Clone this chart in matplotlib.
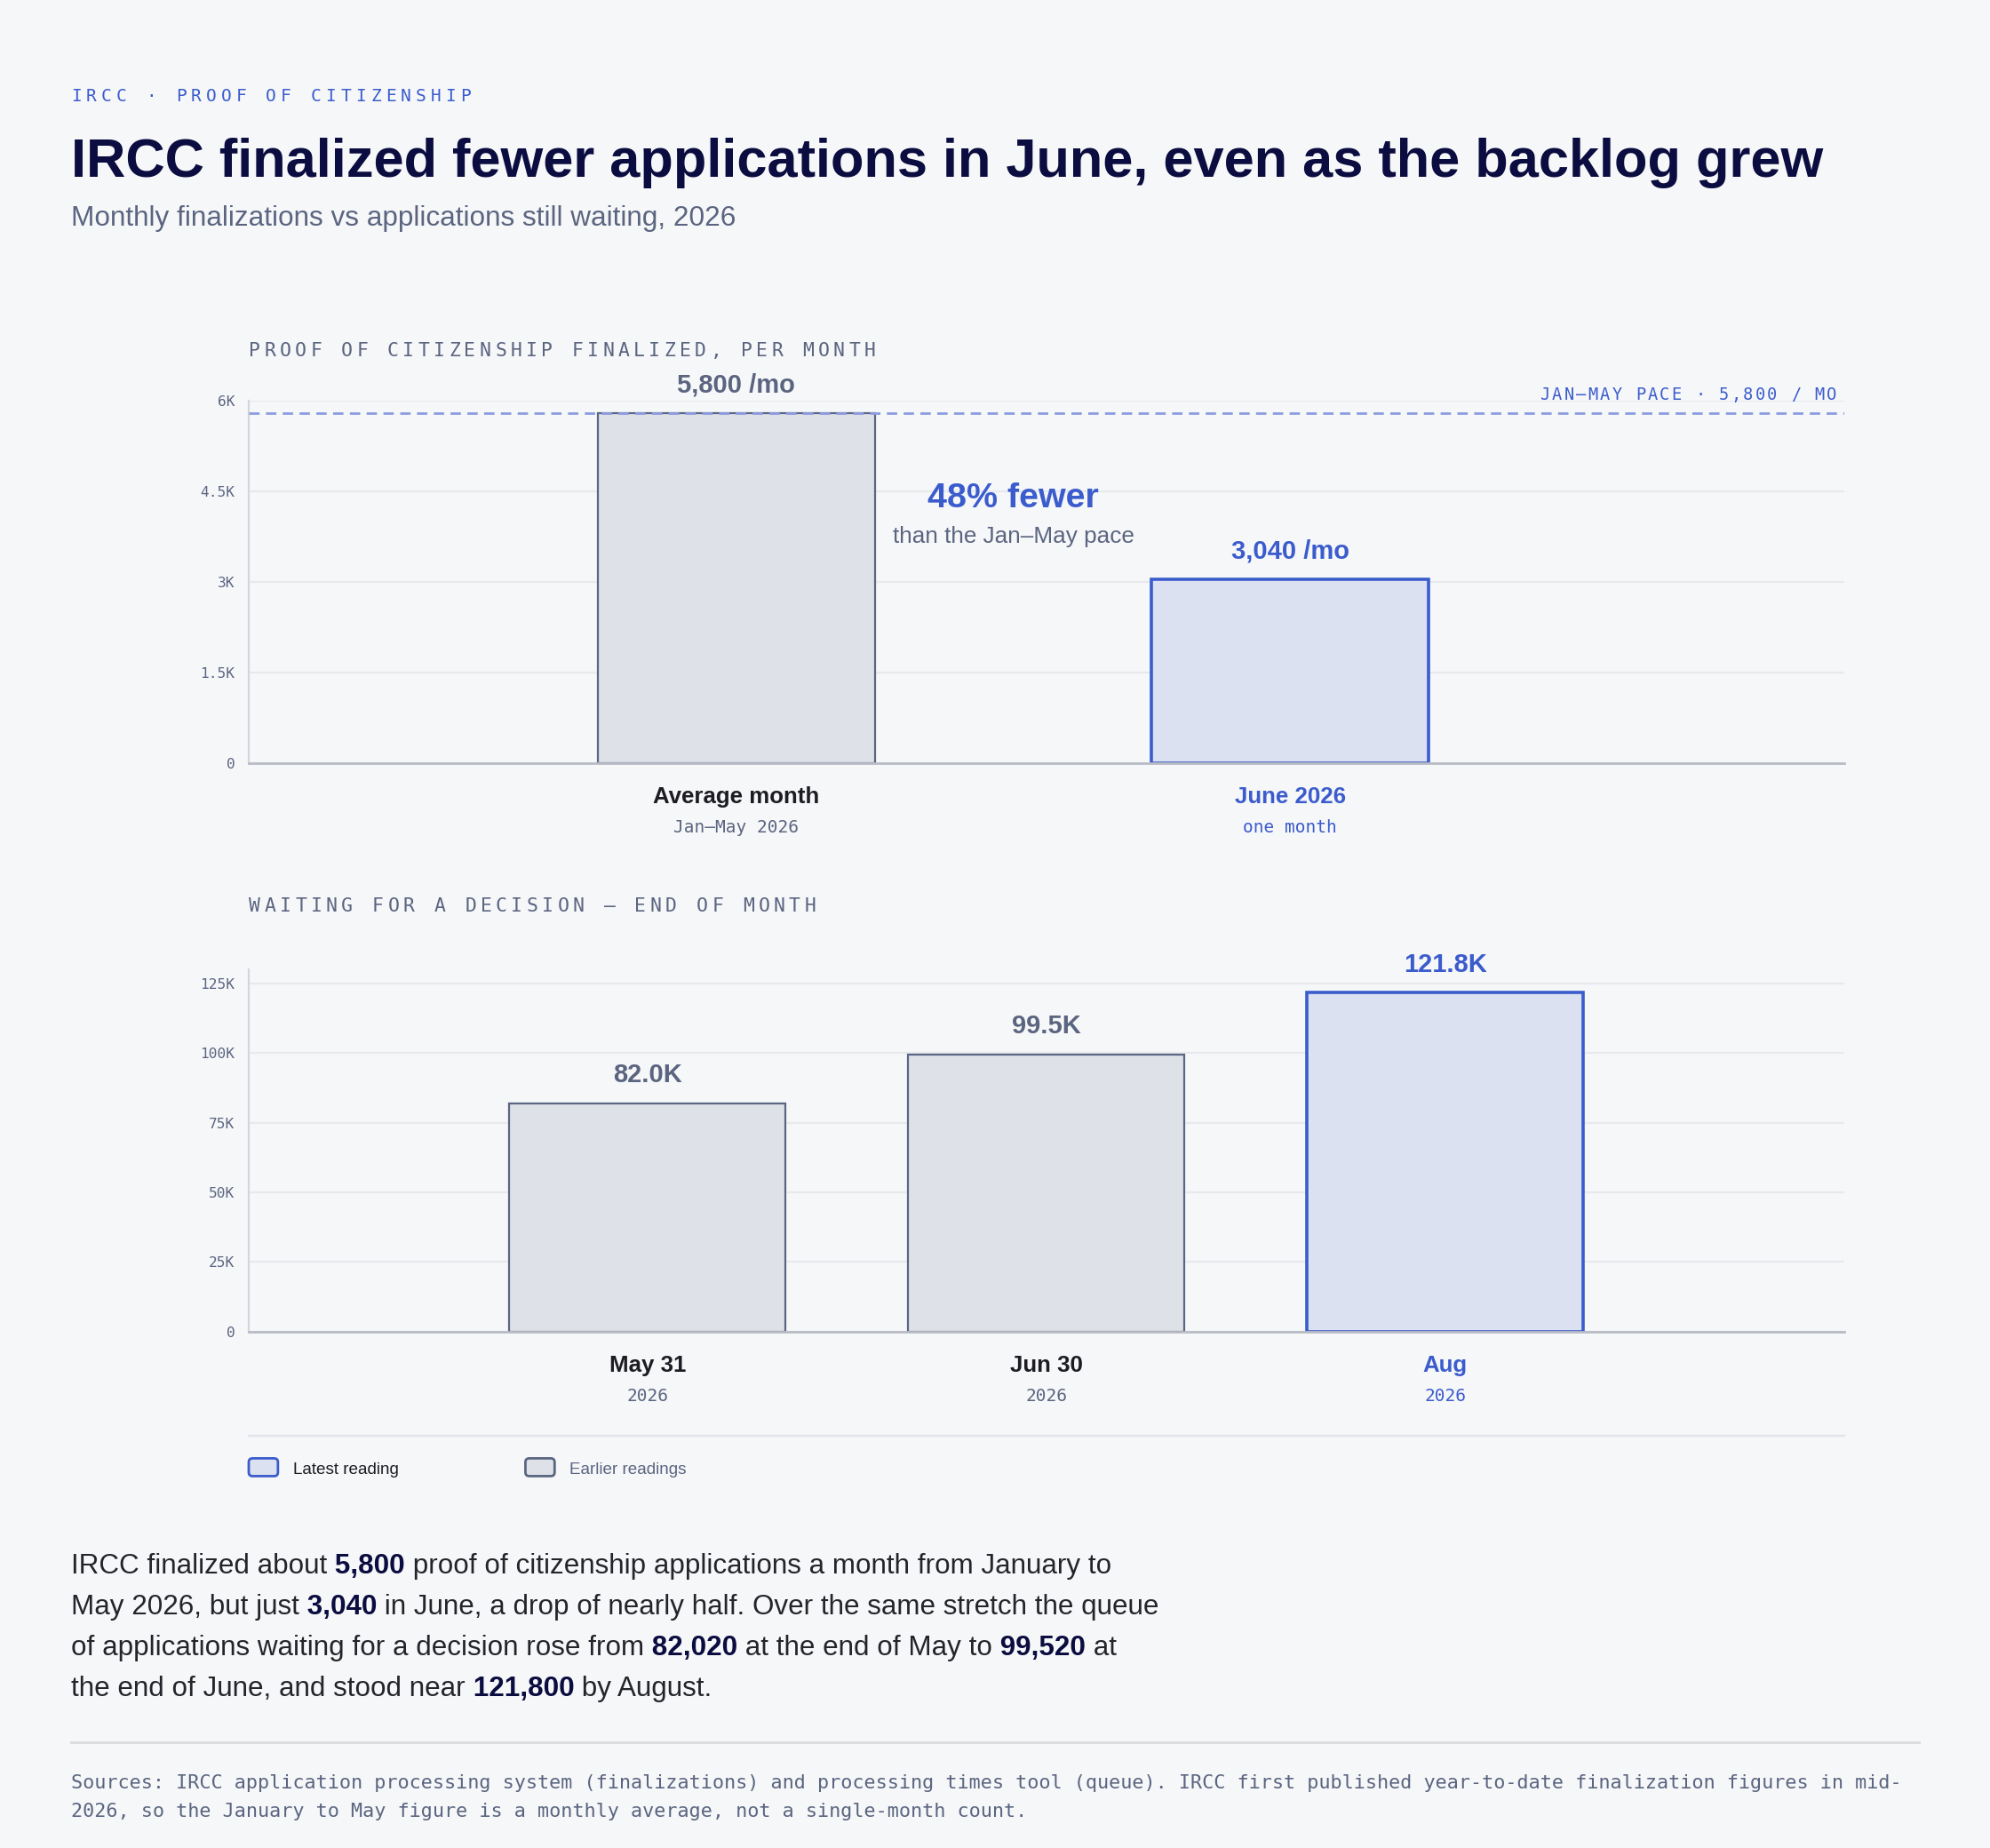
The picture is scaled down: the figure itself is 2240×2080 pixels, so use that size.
import matplotlib.pyplot as plt
from matplotlib.patches import FancyBboxPatch
from matplotlib.transforms import blended_transform_factory

# ---- data -------------------------------------------------------------
FIN_CATEGORIES = ["Average month", "June 2026"]
FIN_SUBLABELS = ["Jan–May 2026", "one month"]
FIN_VALUES = [5800, 3040]
FIN_VALUE_LABELS = ["5,800 /mo", "3,040 /mo"]
FIN_LATEST = [False, True]
FIN_TICKS = [0, 1500, 3000, 4500, 6000]
FIN_TICK_LABELS = ["0", "1.5K", "3K", "4.5K", "6K"]
PACE = 5800

QUEUE_CATEGORIES = ["May 31", "Jun 30", "Aug"]
QUEUE_SUBLABELS = ["2026", "2026", "2026"]
QUEUE_VALUES = [82020, 99520, 121800]
QUEUE_VALUE_LABELS = ["82.0K", "99.5K", "121.8K"]
QUEUE_LATEST = [False, False, True]
QUEUE_TICKS = [0, 25000, 50000, 75000, 100000, 125000]
QUEUE_TICK_LABELS = ["0", "25K", "50K", "75K", "100K", "125K"]

BODY_LINES = [
    "IRCC finalized about **5,800** proof of citizenship applications a month from January to",
    "May 2026, but just **3,040** in June, a drop of nearly half. Over the same stretch the queue",
    "of applications waiting for a decision rose from **82,020** at the end of May to **99,520** at",
    "the end of June, and stood near **121,800** by August.",
]
FOOTER_LINES = [
    "Sources: IRCC application processing system (finalizations) and processing times tool (queue). "
    "IRCC first published year-to-date finalization figures in mid-",
    "2026, so the January to May figure is a monthly average, not a single-month count.",
]

# ---- style ------------------------------------------------------------
BG = "#f6f7f9"
NAVY = "#0b0c3f"
BLUE = "#3b5ccc"
GRAY_TEXT = "#5b6580"
BODY = "#24252b"
BAR_GRAY = "#dee1e8"
EDGE_GRAY = "#5b6682"
BAR_BLUE = "#dbe1f0"
PACE_LINE = "#8e9be0"
GRID = "#e7e9ed"
SANS = "Liberation Sans"
MONO = "DejaVu Sans Mono"

# layout grid of the mockup (1568 x 1456 units, y downward)
W, H = 1568, 1456
PT = 200 / 72 / (2240 / W)   # font points -> layout units

fig = plt.figure(figsize=(11.2, 10.4), dpi=200, facecolor=BG)


def chart_axes(left, top, right, bottom):
    return fig.add_axes([left / W, 1 - bottom / H, (right - left) / W, (bottom - top) / H])


def style_axes(ax, ticks, tick_labels, ymax):
    ax.set_facecolor(BG)
    ax.set_ylim(0, ymax)
    ax.set_yticks(ticks, tick_labels)
    ax.set_xticks([])
    ax.grid(True, axis="y", color=GRID, linewidth=0.8, zorder=0)
    ax.set_axisbelow(True)
    ax.spines[["top", "right"]].set_visible(False)
    ax.spines["left"].set_color("#d3d6dc")
    ax.spines["left"].set_linewidth(0.8)
    ax.spines["bottom"].set_color("#b9bcc5")
    ax.spines["bottom"].set_linewidth(1.0)
    ax.tick_params(axis="y", length=0, pad=5.6, labelsize=5.8, labelcolor=GRAY_TEXT)
    for lab in ax.get_yticklabels():
        lab.set_fontfamily(MONO)


def draw_bars(ax, categories, sublabels, values, value_labels, latest, width):
    xs = list(range(len(values)))
    for x, cat, sub, v, vl, is_latest in zip(xs, categories, sublabels, values, value_labels, latest):
        ax.bar(x, v, width=width, color=BAR_BLUE if is_latest else BAR_GRAY,
               edgecolor=BLUE if is_latest else EDGE_GRAY,
               linewidth=1.3 if is_latest else 0.8, zorder=2)
        ax.annotate(vl, (x, v), xytext=(0, 11.3), textcoords="offset points",
                    ha="center", va="center", fontsize=10.5, fontweight="bold",
                    color=BLUE if is_latest else GRAY_TEXT, family=SANS)
        ax.annotate(cat, (x, 0), xytext=(0, -13.9), textcoords="offset points",
                    ha="center", va="center", fontsize=9.3, fontweight="bold",
                    color=BLUE if is_latest else "#1c1c22", family=SANS, annotation_clip=False)
        ax.annotate(sub, (x, 0), xytext=(0, -26.2), textcoords="offset points",
                    ha="center", va="center", fontsize=7.0,
                    color=BLUE if is_latest else GRAY_TEXT, family=MONO, annotation_clip=False)


# ---- top panel: finalizations ---------------------------------------------
ax1 = chart_axes(196, 316, 1453, 601)
style_axes(ax1, FIN_TICKS, FIN_TICK_LABELS, 6000)
ax1.set_xlim(-0.88, 2.0)
draw_bars(ax1, FIN_CATEGORIES, FIN_SUBLABELS, FIN_VALUES, FIN_VALUE_LABELS, FIN_LATEST, 0.5)
ax1.axhline(PACE, color=PACE_LINE, linewidth=1.0, linestyle=(0, (4.2, 2.6)), zorder=3)

drop = round((1 - FIN_VALUES[1] / FIN_VALUES[0]) * 100)
trans = blended_transform_factory(ax1.transData, ax1.transAxes)
ax1.text(0.5, 0.73, f"{drop}% fewer", transform=trans, ha="center", va="center",
         fontsize=14.2, fontweight="bold", color=BLUE, family=SANS)
ax1.text(0.5, 0.625, "than the Jan–May pace", transform=trans, ha="center", va="center",
         fontsize=9.4, color=GRAY_TEXT, family=SANS)

# ---- bottom panel: queue ----------------------------------------------------
ax2 = chart_axes(196, 764, 1453, 1049)
style_axes(ax2, QUEUE_TICKS, QUEUE_TICK_LABELS, 130000)
ax2.set_xlim(-1, 3)
draw_bars(ax2, QUEUE_CATEGORIES, QUEUE_SUBLABELS, QUEUE_VALUES, QUEUE_VALUE_LABELS, QUEUE_LATEST, 0.693)

# ---- overlay for page text ------------------------------------------------
ov = fig.add_axes([0, 0, 1, 1])
ov.set_xlim(0, W)
ov.set_ylim(H, 0)
ov.axis("off")


def spaced(x, y, s, size, pitch, color, ha="left", va="baseline"):
    """Monospace text with letter spacing, one glyph per cell."""
    adv = 0.602 * size * PT
    if ha == "right":
        x = x - adv - (len(s) - 1) * pitch
    for i, ch in enumerate(s):
        if ch != " ":
            ov.text(x + i * pitch, y, ch, fontsize=size, family=MONO, color=color,
                    ha="left", va=va)


def rich_line(x, y, line, size):
    renderer = fig.canvas.get_renderer()
    parts = line.split("**")
    for i in range(len(parts) - 1):
        if parts[i].endswith(" "):
            parts[i] = parts[i].rstrip(" ")
            parts[i + 1] = " " + parts[i + 1]
    for i, part in enumerate(parts):
        bold = i % 2 == 1
        t = ov.text(x, y, part, fontsize=size, family=SANS, va="baseline", ha="left",
                    fontweight="bold" if bold else "normal", color=NAVY if bold else BODY)
        x += t.get_window_extent(renderer).width * W / 2240


spaced(56, 80, "IRCC · PROOF OF CITIZENSHIP", 7.0, 11.8, BLUE)
ov.text(56, 139, "IRCC finalized fewer applications in June, even as the backlog grew",
        fontsize=22.1, fontweight="bold", color=NAVY, family=SANS, va="baseline")
ov.text(56, 178, "Monthly finalizations vs applications still waiting, 2026",
        fontsize=11.35, color=GRAY_TEXT, family=SANS, va="baseline")

spaced(196, 281, "PROOF OF CITIZENSHIP FINALIZED, PER MONTH", 7.7, 12.12, GRAY_TEXT)
spaced(1447, 315, f"JAN–MAY PACE · {PACE:,} / MO", 6.7, 9.4, BLUE, ha="right")
spaced(196, 718, "WAITING FOR A DECISION — END OF MONTH", 7.7, 12.16, GRAY_TEXT)

# legend
ov.plot([196, 1453], [1131, 1131], color="#e1e3e8", linewidth=0.8)
for x0, label, face, edge, tcolor in [(196, "Latest reading", BAR_BLUE, BLUE, "#1c1c22"),
                                      (414, "Earlier readings", BAR_GRAY, EDGE_GRAY, GRAY_TEXT)]:
    ov.add_patch(FancyBboxPatch((x0, 1149), 23, 14, boxstyle="round,pad=0,rounding_size=3",
                                facecolor=face, edgecolor=edge, linewidth=1.0))
    ov.text(x0 + 35, 1158, label, fontsize=6.8, color=tcolor, family=SANS, va="center")

for i, line in enumerate(BODY_LINES):
    rich_line(56, 1240 + i * 32, line, 11.3)

ov.plot([56, 1512], [1373, 1373], color="#d8dade", linewidth=1.0)
for i, line in enumerate(FOOTER_LINES):
    ov.text(56, 1409 + i * 22.5, line, fontsize=7.85, family=MONO, color=GRAY_TEXT,
            va="baseline")

fig.savefig("out.png", dpi=200, facecolor=BG)
